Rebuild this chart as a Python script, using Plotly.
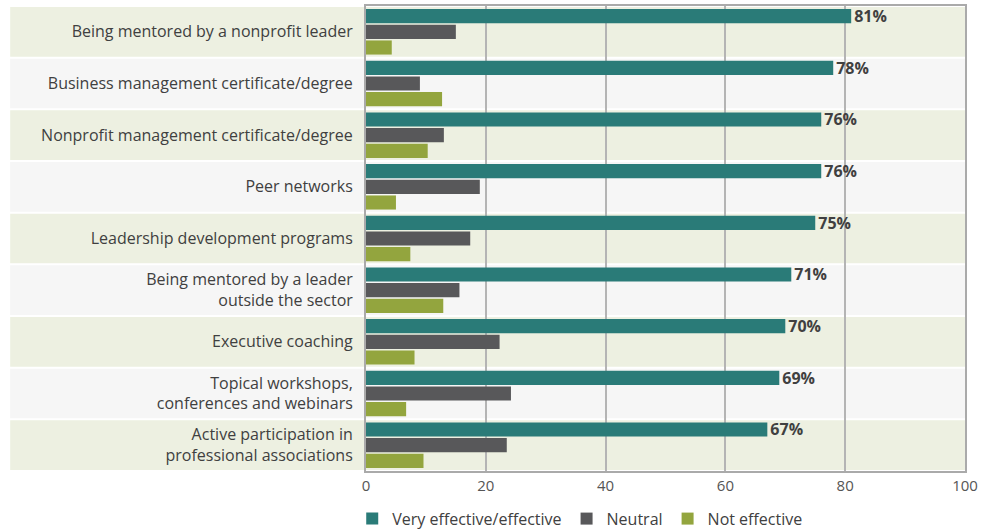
import plotly.graph_objects as go

categories = [
    "Being mentored by a nonprofit leader",
    "Business management certificate/degree",
    "Nonprofit management certificate/degree",
    "Peer networks",
    "Leadership development programs",
    "Being mentored by a leader<br>outside the sector",
    "Executive coaching",
    "Topical workshops,<br>conferences and webinars",
    "Active participation in<br>professional associations",
]
effective = [81, 78, 76, 76, 75, 71, 70, 69, 67]
neutral = [15, 9, 13, 19, 17.4, 15.6, 22.3, 24.2, 23.5]
not_effective = [4.3, 12.7, 10.3, 5, 7.4, 12.9, 8.1, 6.7, 9.6]
series_names = ["Very effective/effective", "Neutral", "Not effective"]
colors = ["#2a7b78", "#58585a", "#93a53e"]
x_ticks = [0, 20, 40, 60, 80, 100]

FONT = "Open Sans"

fig = go.Figure()
for name, vals, col in zip(series_names, [effective, neutral, not_effective], colors):
    kw = {}
    if name == series_names[0]:
        kw = dict(
            text=[f"<b>{v}%</b>" for v in vals],
            textposition="outside",
            textfont=dict(family=FONT, size=16, color="#404040"),
            constraintext="none",
            cliponaxis=False,
        )
    fig.add_trace(go.Bar(
        y=categories, x=vals, name=name, orientation="h",
        marker=dict(color=col, line=dict(width=0)),
        hoverinfo="x+name",
        **kw,
    ))

band_colors = ["#edf0e1", "#f6f6f6"]
shapes = []
for i, c in enumerate(categories):
    shapes.append(dict(
        type="rect", xref="paper", yref="y",
        x0=-0.594, x1=1.0,
        y0=i - 0.5 + 0.02, y1=i + 0.5 - 0.02,
        fillcolor=band_colors[i % 2], line=dict(width=0), layer="below",
    ))

fig.update_layout(
    width=989, height=531,
    margin=dict(l=366, r=24, t=6, b=60, autoexpand=False),
    paper_bgcolor="white", plot_bgcolor="rgba(0,0,0,0)",
    barmode="group", bargap=0.09, bargroupgap=0.1,
    font=dict(family=FONT, size=16, color="#404040"),
    shapes=shapes,
    showlegend=True,
    legend=dict(
        orientation="h", x=-0.023, xanchor="left", y=-0.066, yanchor="top",
        font=dict(family=FONT, size=16, color="#404040"),
        itemwidth=30, traceorder="normal",
    ),
    xaxis=dict(
        range=[0, 100], tickvals=x_ticks, ticktext=[str(t) for t in x_ticks],
        showgrid=True, gridcolor="#b4b4b4", gridwidth=2,
        showline=True, linecolor="#aaaaaa", linewidth=2, mirror=True,
        zeroline=False, ticks="", automargin=False,
        tickfont=dict(family=FONT, size=15, color="#555555"),
    ),
    yaxis=dict(
        autorange="reversed", showgrid=False, zeroline=False,
        showline=True, linecolor="#aaaaaa", linewidth=2, mirror=True,
        ticks="", ticklabelstandoff=8, automargin=False,
        tickfont=dict(family=FONT, size=16, color="#404040"),
    ),
)

fig.write_html(
    "out.html",
    config={"displayModeBar": False},
    post_script="document.body.style.margin='0px';document.body.style.padding='0px';",
)
